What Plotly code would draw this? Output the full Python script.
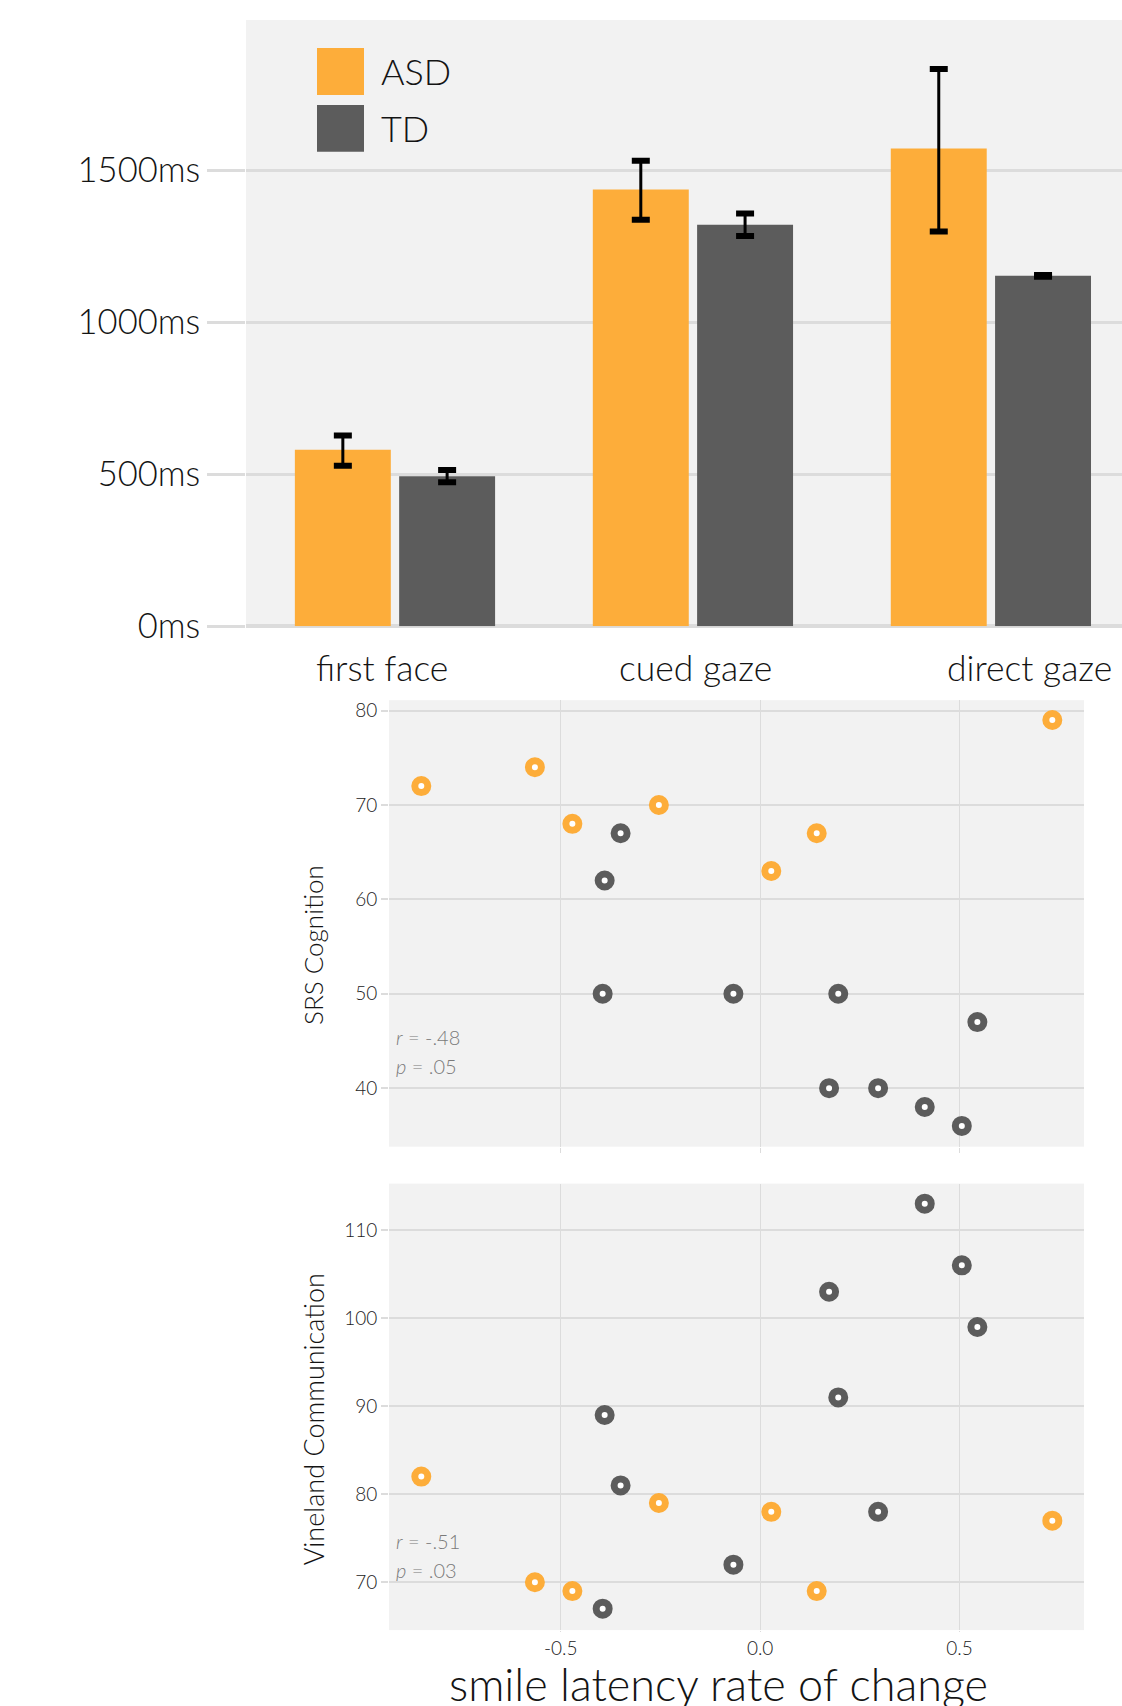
import plotly.graph_objects as go

W, H = 1122, 1706          # reference picture size (positions below are measured in it)
FIG_H = 1725               # figure height that fills the photographed page

# ---------------- data ----------------
categories = ["first face", "cued gaze", "direct gaze"]
asd_ms = [581, 1437, 1572]
asd_err_plus = [47, 95, 262]
asd_err_minus = [53, 99, 273]
td_ms = [494, 1321, 1153]
td_err = [20, 37, 3]
y_ticks_ms = [0, 500, 1000, 1500]
y_ticktext_ms = ["0ms", "500ms", "1000ms", "1500ms"]

asd_rate = [-0.850, -0.565, -0.471, -0.254, 0.028, 0.142, 0.733]
asd_srs = [72, 74, 68, 70, 63, 67, 79]
asd_vineland = [82, 70, 69, 79, 78, 69, 77]

td_rate = [-0.395, -0.390, -0.350, -0.067, 0.173, 0.196, 0.296, 0.413, 0.506, 0.545]
td_srs = [50, 62, 67, 50, 40, 50, 40, 38, 36, 47]
td_vineland = [67, 89, 81, 72, 103, 91, 78, 113, 106, 99]

rate_ticks = [-0.5, 0.0, 0.5]
rate_ticktext = ["-0.5", "0.0", "0.5"]
srs_ticks = [40, 50, 60, 70, 80]
vineland_ticks = [70, 80, 90, 100, 110]

stats_srs = ("-.48", ".05")
stats_vineland = ("-.51", ".03")

# ---------------- style ----------------
ORANGE = "#FDAD3A"
GREY = "#5C5C5C"
BG = "#F2F2F2"
GRID = "#DCDCDC"
FONT = "Lato, Liberation Sans, Arial, sans-serif"
WT = 300
TXT = "#141414"


def fnt(size, color=TXT):
    return dict(size=size, color=color, family=FONT, weight=WT)


def px_x(x):
    return x / W


def px_y(y):
    return 1 - y / H


fig = go.Figure()

# ---------------- bar chart ----------------
asd_top = [v + e for v, e in zip(asd_ms, asd_err_plus)]
asd_bot = [v - e for v, e in zip(asd_ms, asd_err_minus)]
td_top = [v + e for v, e in zip(td_ms, td_err)]
td_bot = [v - e for v, e in zip(td_ms, td_err)]

fig.add_trace(go.Bar(
    x=categories, y=asd_ms, name="ASD", offsetgroup="ASD",
    marker=dict(color=ORANGE, line=dict(width=0)),
    error_y=dict(type="data", symmetric=False, array=asd_err_plus, arrayminus=asd_err_minus,
                 color="#000000", thickness=3, width=0),
    xaxis="x", yaxis="y", showlegend=False,
))
fig.add_trace(go.Bar(
    x=categories, y=td_ms, name="TD", offsetgroup="TD",
    marker=dict(color=GREY, line=dict(width=0)),
    error_y=dict(type="data", array=td_err, color="#000000", thickness=3, width=0),
    xaxis="x", yaxis="y", showlegend=False,
))
# error-bar caps (zero-length error bars drawn thicker at each end)
for grp, ends in [("ASD", asd_top), ("ASD", asd_bot), ("TD", td_top), ("TD", td_bot)]:
    fig.add_trace(go.Bar(
        x=categories, y=ends, offsetgroup=grp,
        marker=dict(color="rgba(0,0,0,0)", line=dict(width=0)),
        error_y=dict(type="data", array=[0] * len(ends), color="#000000", thickness=6, width=9),
        xaxis="x", yaxis="y", showlegend=False, hoverinfo="skip",
    ))

# ---------------- scatter panels ----------------
marker_asd = dict(symbol="circle", size=13, color="white", line=dict(color=ORANGE, width=7))
marker_td = dict(symbol="circle", size=13, color="white", line=dict(color=GREY, width=7))

fig.add_trace(go.Scatter(x=asd_rate, y=asd_srs, mode="markers", marker=marker_asd,
                         xaxis="x2", yaxis="y2", showlegend=False))
fig.add_trace(go.Scatter(x=td_rate, y=td_srs, mode="markers", marker=marker_td,
                         xaxis="x2", yaxis="y2", showlegend=False))
fig.add_trace(go.Scatter(x=asd_rate, y=asd_vineland, mode="markers", marker=marker_asd,
                         xaxis="x3", yaxis="y3", showlegend=False))
fig.add_trace(go.Scatter(x=td_rate, y=td_vineland, mode="markers", marker=marker_td,
                         xaxis="x3", yaxis="y3", showlegend=False))

sc_x_dom = [px_x(389), px_x(1084)]

fig.update_layout(
    width=W, height=FIG_H,
    margin=dict(l=0, r=0, t=0, b=0),
    paper_bgcolor="white",
    plot_bgcolor=BG,
    font=fnt(16),
    barmode="group",
    bargap=0.30,
    bargroupgap=0.08,
    xaxis=dict(
        domain=[px_x(246), 1.0], type="category", range=[-0.5, 2.44],
        showgrid=False, zeroline=False, showline=False, showticklabels=False,
        ticks="", anchor="y",
    ),
    yaxis=dict(
        domain=[px_y(625), px_y(18)], range=[0, 1995],
        tickvals=y_ticks_ms, ticktext=y_ticktext_ms,
        showgrid=True, gridcolor=GRID, gridwidth=2.5,
        zeroline=True, zerolinecolor=GRID, zerolinewidth=4,
        ticks="outside", ticklen=38, tickwidth=2.5, tickcolor=GRID,
        tickfont=fnt(34.5), anchor="x", showline=False,
    ),
    xaxis2=dict(
        domain=sc_x_dom, range=[-0.931, 0.8125], tickvals=rate_ticks,
        showticklabels=False, showgrid=True, gridcolor=GRID, gridwidth=1,
        zeroline=False, ticks="outside", ticklen=5, tickwidth=1, tickcolor=GRID,
        anchor="y2", showline=False,
    ),
    yaxis2=dict(
        domain=[px_y(1146), px_y(699)], range=[33.8, 81.1], tickvals=srs_ticks,
        showgrid=True, gridcolor=GRID, gridwidth=2, zeroline=False,
        ticks="outside", ticklen=7, tickwidth=2, tickcolor=GRID,
        tickfont=fnt(19, "#222222"), anchor="x2", showline=False,
    ),
    xaxis3=dict(
        domain=sc_x_dom, range=[-0.931, 0.8125], tickvals=rate_ticks, ticktext=rate_ticktext,
        showgrid=True, gridcolor=GRID, gridwidth=1, zeroline=False,
        ticks="outside", ticklen=1, tickwidth=1, tickcolor=GRID,
        tickfont=fnt(19, "#222222"), anchor="y3", showline=False,
    ),
    yaxis3=dict(
        domain=[px_y(1630), px_y(1183)], range=[64.57, 115.28], tickvals=vineland_ticks,
        showgrid=True, gridcolor=GRID, gridwidth=2, zeroline=False,
        ticks="outside", ticklen=7, tickwidth=2, tickcolor=GRID,
        tickfont=fnt(19, "#222222"), anchor="x3", showline=False,
    ),
)

# ---------------- category labels ----------------
cat_label_pos = [(382, "center"), (695, "center"), (945, "left")]
for cat, (xp, anchor) in zip(categories, cat_label_pos):
    fig.add_annotation(xref="paper", yref="paper", x=px_x(xp), y=px_y(666),
                       text=cat, showarrow=False, xanchor=anchor, yanchor="middle",
                       font=fnt(35.5))

# ---------------- legend (drawn manually) ----------------
legend_items = [("ASD", ORANGE, 46), ("TD", GREY, 103)]
for label, color, top in legend_items:
    fig.add_shape(type="rect", xref="paper", yref="paper",
                  x0=px_x(317), x1=px_x(364), y0=px_y(top + 47), y1=px_y(top),
                  fillcolor=color, line=dict(width=0))
    fig.add_annotation(xref="paper", yref="paper", x=px_x(379), y=px_y(top + 23),
                       text=label, showarrow=False, xanchor="left", yanchor="middle",
                       font=fnt(36))

# ---------------- axis titles ----------------
fig.add_annotation(xref="paper", yref="paper", x=px_x(313), y=px_y(944),
                   text="SRS Cognition", textangle=-90, showarrow=False,
                   xanchor="center", yanchor="middle", font=fnt(26))
fig.add_annotation(xref="paper", yref="paper", x=px_x(313), y=px_y(1419),
                   text="Vineland Communication", textangle=-90, showarrow=False,
                   xanchor="center", yanchor="middle", font=fnt(27))
fig.add_annotation(xref="paper", yref="paper", x=px_x(718), y=px_y(1684),
                   text="smile latency rate of change", showarrow=False,
                   xanchor="center", yanchor="middle", font=fnt(45))

# ---------------- stats ----------------
for (r, p), y1 in [(stats_srs, 1036), (stats_vineland, 1541)]:
    fig.add_annotation(xref="paper", yref="paper", x=px_x(394), y=px_y(y1),
                       text="<i>r</i> = " + r, showarrow=False, xanchor="left", yanchor="middle",
                       font=fnt(20, "#7A7A7A"))
    fig.add_annotation(xref="paper", yref="paper", x=px_x(394), y=px_y(y1 + 29),
                       text="<i>p</i> = " + p, showarrow=False, xanchor="left", yanchor="middle",
                       font=fnt(20, "#7A7A7A"))

page_fix = (
    "document.documentElement.style.margin='0';"
    "document.documentElement.style.background='white';"
    "document.body.style.margin='0';"
)
fig.write_html("out.html", config={"displayModeBar": False}, post_script=page_fix)
